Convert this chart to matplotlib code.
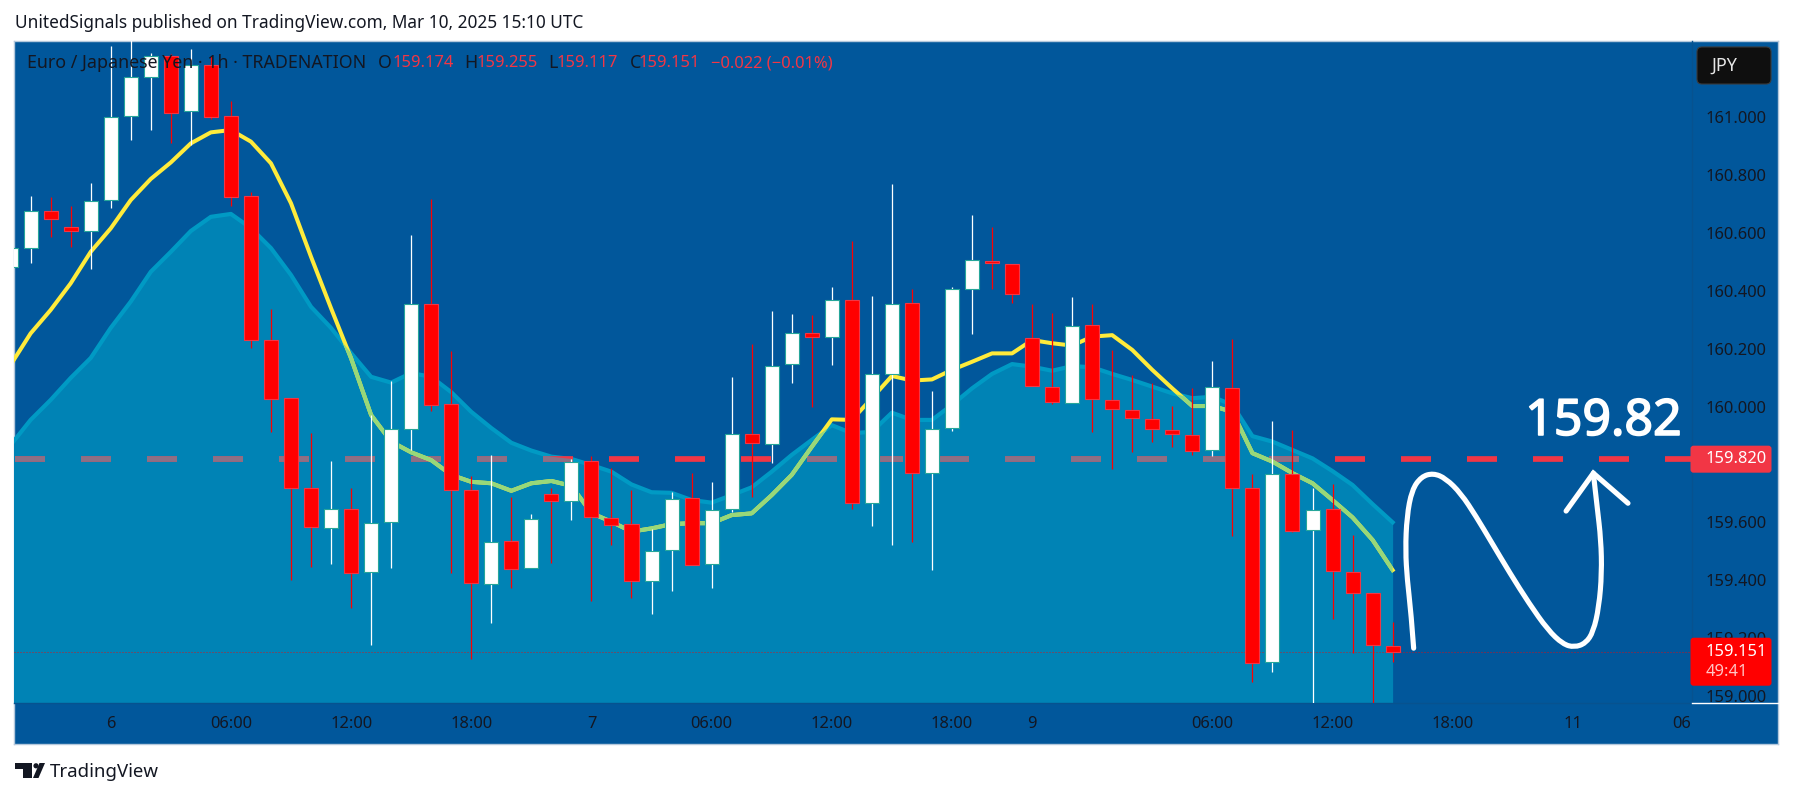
import matplotlib
matplotlib.use("Agg")
import matplotlib.pyplot as plt
from matplotlib.patches import FancyBboxPatch, Polygon, Circle, PathPatch
from matplotlib.path import Path
import matplotlib.patheffects as pe
import numpy as np

plt.rcParams['lines.scale_dashes'] = False
FONT = "Noto Sans"
plt.rcParams['font.family'] = FONT

W, H = 1793, 798

# ---- data (hourly candles, EUR/JPY), first candle is cut by the left edge
idx = list(range(-1, 69))
opens = [160.483,160.547,160.675,160.620,160.606,160.713,161.003,161.138,161.211,161.021,161.180,161.003,160.727,
 160.230,160.029,159.718,159.579,159.645,159.427,159.600,159.922,160.354,160.008,159.711,159.387,159.534,159.441,
 159.697,159.674,159.811,159.616,159.593,159.396,159.503,159.683,159.455,159.645,159.906,159.870,160.146,160.253,
 160.240,160.370,159.667,160.112,160.359,159.770,159.925,160.407,160.504,160.494,160.238,160.069,160.011,160.283,
 160.024,159.989,159.958,159.920,159.903,159.850,160.065,159.720,159.116,159.768,159.572,159.647,159.429,159.355,159.174]
closes = [160.548,160.675,160.647,160.606,160.710,161.000,161.138,161.211,161.016,161.180,161.002,160.726,160.229,
 160.026,159.718,159.583,159.647,159.426,159.599,159.924,160.354,160.005,159.711,159.389,159.533,159.440,159.613,
 159.673,159.810,159.617,159.590,159.396,159.502,159.682,159.452,159.644,159.906,159.873,160.141,160.256,160.240,
 160.370,159.667,160.114,160.356,159.770,159.924,160.408,160.508,160.495,160.388,160.070,160.015,160.280,160.025,
 159.991,159.960,159.922,159.904,159.846,160.069,159.718,159.113,159.768,159.571,159.644,159.431,159.355,159.175,159.151]
highs = [160.575,160.728,160.723,160.694,160.773,161.246,161.302,161.221,161.219,161.236,161.212,161.056,160.741,
 160.338,160.029,159.908,159.812,159.718,159.971,160.089,160.593,160.717,160.192,159.760,159.833,159.687,159.629,
 159.718,159.818,159.829,159.787,159.712,159.577,159.705,159.770,159.739,160.101,160.216,160.331,160.320,160.316,
 160.414,160.571,160.382,160.770,160.406,160.053,160.414,160.662,160.620,160.494,160.356,160.323,160.379,160.356,
 160.196,160.108,160.081,160.002,160.064,160.157,160.233,159.766,159.950,159.919,159.719,159.733,159.556,159.355,159.255]
lows = [160.455,160.497,160.587,160.551,160.477,160.686,160.923,160.956,160.912,160.904,160.993,160.694,160.204,
 159.913,159.401,159.447,159.456,159.305,159.176,159.443,159.850,159.985,159.426,159.127,159.253,159.374,159.441,
 159.459,159.608,159.328,159.522,159.340,159.283,159.364,159.452,159.374,159.637,159.689,159.806,160.083,159.998,
 160.145,159.647,159.588,159.523,159.533,159.436,159.917,160.252,160.407,160.357,160.070,160.009,160.011,159.913,
 159.785,159.844,159.879,159.861,159.833,159.830,159.554,159.049,159.084,159.568,158.951,159.267,159.147,158.951,159.117]
ma_fast = [160.144,160.253,160.334,160.426,160.535,160.616,160.714,160.787,160.844,160.910,160.948,160.956,160.916,
 160.841,160.703,160.518,160.340,160.167,159.971,159.879,159.842,159.815,159.764,159.740,159.735,159.709,159.735,
 159.743,159.726,159.632,159.602,159.568,159.579,159.594,159.597,159.597,159.625,159.631,159.694,159.764,159.861,
 159.956,159.954,160.029,160.106,160.090,160.094,160.127,160.155,160.184,160.184,160.230,160.219,160.211,160.242,
 160.247,160.196,160.127,160.063,160.002,160.002,159.982,159.839,159.810,159.770,159.735,159.677,159.617,159.539,159.435]
ma_area = [159.867,159.954,160.023,160.099,160.168,160.272,160.363,160.466,160.535,160.607,160.656,160.666,160.617,
 160.548,160.455,160.345,160.272,160.185,160.103,160.083,160.116,160.103,160.050,159.982,159.926,159.875,159.848,
 159.827,159.819,159.798,159.775,159.731,159.704,159.702,159.677,159.668,159.694,159.721,159.775,159.833,159.885,
 159.936,159.908,159.913,159.979,159.954,159.954,160.006,160.063,160.113,160.147,160.138,160.124,160.140,160.136,
 160.113,160.092,160.069,160.046,160.029,160.034,160.006,159.898,159.879,159.850,159.821,159.777,159.729,159.663,159.600]

target_level = 159.82
last_price = 159.151
price_ticks = [159.0,159.2,159.4,159.6,160.0,160.2,160.4,160.6,160.8,161.0]
time_pos = [4,10,16,22,28,34,40,46,50,59,65,71,77]
time_labels = ["6","06:00","12:00","18:00","7","06:00","12:00","18:00","9","06:00","12:00","18:00","11"]
day_labels = {"6","7","9","11"}

# hand-drawn stroke on the chart (candle position, price)
stroke_x = [69.05,68.92,68.73,68.64,68.71,68.96,69.43,70.03,70.65,71.41,72.17,72.92,73.86,74.81,75.75,76.50,77.07,
            77.64,78.02,78.30,78.44,78.40,78.21,78.02]
stroke_y = [159.165,159.286,159.401,159.504,159.620,159.712,159.758,159.770,159.752,159.700,159.620,159.533,159.424,
            159.320,159.228,159.179,159.168,159.182,159.222,159.308,159.424,159.539,159.654,159.770]
head_x = [76.66,78.02,79.75]
head_y = [159.639,159.770,159.666]

# ---- colours
BG = "#01579B"; AREA = "#0083B5"; AREA_LINE = "#009AC4"
RED = "#FF0000"; TAG = "#F23645"; TEAL = "#26A69A"; INK = "#131722"
YEL = "#FFEB3B"; GRN = "#97D87A"; MAUVE = "#8D7085"
FS = 11.9

fig = plt.figure(figsize=(W/100, H/100), dpi=100, facecolor="white")

def axpx(l, t, r, b, **kw):
    return fig.add_axes([l/W, 1-b/H, (r-l)/W, (b-t)/H], **kw)

# outer frame with price and time scales
frame = axpx(14, 41, 1778, 744, facecolor=BG)
frame.set_xticks([]); frame.set_yticks([])
for s in frame.spines.values():
    s.set_color("#B4C8DC"); s.set_linewidth(1)

ax = axpx(14, 41, 1692, 703, facecolor="none")
ax.set_xlim(-0.829, 82.946)
ax.set_ylim(158.9755, 161.2638)
for n, s in ax.spines.items():
    s.set_visible(n in ("right", "bottom"))
    s.set_color("#07528F"); s.set_linewidth(1)

area = ax.fill_between(idx, ma_area, 158.9, color=AREA, lw=0, zorder=1)
clip = area.get_paths()[0]
ax.plot(idx, ma_area, color=AREA_LINE, lw=3.0, zorder=1.5, solid_joinstyle="round")

xl = ax.get_xlim()
dash = dict(lw=4.1, dashes=(21.6, 25.92), dash_capstyle="butt", zorder=2)
ax.plot([-0.76, xl[1]], [target_level]*2, color=TAG, **dash)
m, = ax.plot([-0.76, xl[1]], [target_level]*2, color=MAUVE, **dash)
m.set_clip_path(clip, transform=area.get_transform())

ax.plot(idx, ma_fast, color=YEL, lw=2.9, zorder=2.5)
g, = ax.plot(idx, ma_fast, color=GRN, lw=2.9, zorder=2.6)
g.set_clip_path(clip, transform=area.get_transform())

ax.plot(xl, [last_price]*2, color=RED, lw=0.7, alpha=0.8, ls=(0, (0.72, 1.44)), zorder=2.7)

o = np.array(opens); c = np.array(closes); hi = np.array(highs); lo = np.array(lows); x = np.array(idx)
up = c >= o
ax.vlines(x[up], lo[up], hi[up], color="white", lw=0.9, zorder=3)
ax.vlines(x[~up], lo[~up], hi[~up], color=RED, lw=0.9, zorder=3)
ax.bar(x[up], (c-o)[up], bottom=o[up], width=0.7, color="white", edgecolor=TEAL, lw=0.8, zorder=4)
ax.bar(x[~up], (o-c)[~up], bottom=c[~up], width=0.7, color=RED, edgecolor=TAG, lw=0.8, zorder=4)

# hand-drawn stroke
pts = list(zip(stroke_x, stroke_y))
verts = [pts[0]]; codes = [Path.MOVETO]
for i in range(1, len(pts)-1):
    mid = ((pts[i][0]+pts[i+1][0])/2, (pts[i][1]+pts[i+1][1])/2)
    verts += [pts[i], mid]; codes += [Path.CURVE3, Path.CURVE3]
verts.append(pts[-1]); codes.append(Path.LINETO)
ax.add_patch(PathPatch(Path(verts, codes), fc="none", ec="white", lw=3.7, capstyle="round", zorder=6))
ax.plot(head_x, head_y, color="white", lw=3.7, solid_capstyle="round", solid_joinstyle="miter", zorder=6)
big = ax.text(78.53, 159.947, "159.82", color="white", fontsize=36, ha="center", va="center", zorder=6)
big.set_path_effects([pe.withStroke(linewidth=1.2, foreground="white")])

# scales
ax.yaxis.tick_right()
ax.set_yticks(price_ticks)
ax.set_yticklabels([f"{p:.3f}" for p in price_ticks], fontsize=FS, color=INK)
ax.set_xticks(time_pos)
ax.set_xticklabels(time_labels, fontsize=FS, color=INK)
for t in ax.get_xticklabels():
    if t.get_text() in day_labels:
        t.set_fontweight("bold")
ax.tick_params(axis="both", length=0)
ax.tick_params(axis="y", pad=9.8)
ax.tick_params(axis="x", pad=9.0)

# legend row on the chart
row = [(27, "Euro / Japanese Yen · 1h · TRADENATION", INK), (377.5, "O", INK), (393, "159.174", TAG), (464, "H", INK),
       (476.5, "159.255", TAG), (548.5, "L", INK), (557, "159.117", TAG), (630, "C", INK), (639, "159.151", TAG),
       (711, "−0.022 (−0.01%)", TAG)]

# overlay in pixel coordinates for page chrome
ov = fig.add_axes([0, 0, 1, 1], facecolor="none")
ov.set_xlim(0, W); ov.set_ylim(H, 0); ov.axis("off")

for px, s, col in row:
    ov.text(px, 63, s, color=col, fontsize=FS if col == TAG else 12.8, va="center", ha="left")

ov.text(1691, 724.5, "06", color=INK, fontsize=FS, ha="right", va="center")
ov.text(15, 23, "UnitedSignals published on TradingView.com, Mar 10, 2025 15:10 UTC", color=INK, fontsize=12.4,
        va="center", ha="left")
ov.text(50, 772, "TradingView", color=INK, fontsize=13.4, va="center", ha="left")
ov.add_patch(Polygon([(15,763),(32,763),(32,778),(23,778),(23,768.5),(15,768.5)], fc=INK, ec="none"))
ov.add_patch(Polygon([(39.5,763),(45,763),(38.5,778),(33,778)], fc=INK, ec="none"))
ov.add_patch(Circle((36,765.8), 2.6, fc=INK, ec="none"))

ov.add_patch(FancyBboxPatch((1699,49), 70, 33, boxstyle="round,pad=2,rounding_size=5", fc="#0F0F0F", ec="#3A3A3A", lw=0.8))
ov.text(1711.5, 65.5, "JPY", color="#E6E6E6", fontsize=13, va="center", ha="left")

def py(p):
    return H - ax.transData.transform((0, p))[1]

y0 = py(target_level)
ov.add_patch(FancyBboxPatch((1692, y0-11.5), 78, 24, boxstyle="round,pad=1.5,rounding_size=3", fc=TAG, ec="none"))
ov.text(1705.5, y0+0.5, f"{target_level:.3f}", color="white", fontsize=FS, va="center", ha="left")
y1 = py(last_price)
ov.add_patch(FancyBboxPatch((1692, y1-13), 78, 45, boxstyle="round,pad=1.5,rounding_size=3", fc=RED, ec="none"))
ov.text(1705.5, y1, f"{last_price:.3f}", color="white", fontsize=FS, va="center", ha="left")
ov.text(1705.5, 672.5, "49:41", color="#FFC4C4", fontsize=FS, va="center", ha="left")
ov.plot([1692, 1778], [702.7, 702.7], color="white", lw=1)

fig.savefig("out.png", dpi=100, facecolor="white")
